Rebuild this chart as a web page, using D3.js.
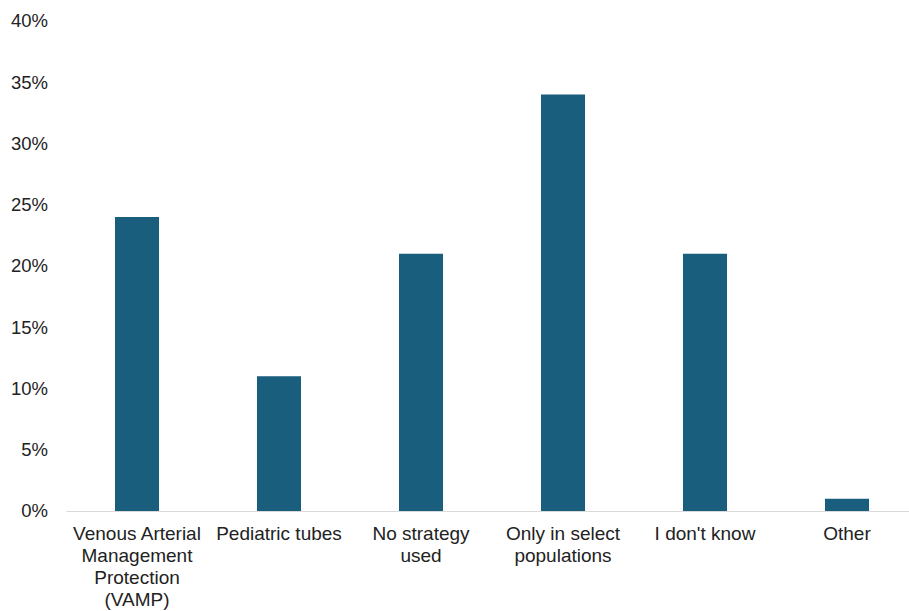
<!DOCTYPE html>
<html>
<head>
<meta charset="utf-8">
<script src="https://cdn.jsdelivr.net/npm/d3@7"></script>
<style>
  html, body { margin: 0; padding: 0; background: #fff; }
  text { font-family: "Liberation Sans", Arial, sans-serif; }
</style>
</head>
<body>
<svg id="chart" width="909" height="611"></svg>
<script>
const categories = [
  "Venous Arterial\nManagement\nProtection\n(VAMP)",
  "Pediatric tubes",
  "No strategy\nused",
  "Only in select\npopulations",
  "I don't know",
  "Other"
];
const values = [24, 11, 21, 34, 21, 1];
const yTicks = [0, 5, 10, 15, 20, 25, 30, 35, 40];

(function () {
const svg = d3.select("#chart");
const mLeft = 66, mRight = 918, mTop = 21, mBottom = 511;

const x = d3.scaleBand().domain(categories).range([mLeft, mRight]).padding(0);
const y = d3.scaleLinear().domain([0, 40]).range([mBottom, mTop]);
const barW = x.bandwidth() * 0.31;

// y-axis labels
const yAxis = d3.axisLeft(y).tickValues(yTicks).tickFormat(d => d + "%").tickSize(0).tickPadding(18);
const yg = svg.append("g").attr("transform", `translate(${mLeft},0)`).call(yAxis);
yg.select(".domain").remove();
yg.selectAll("text").attr("font-size", "18.5px").attr("fill", "#222")
  .attr("font-family", "Liberation Sans, Arial, sans-serif");

// bars
svg.append("g").selectAll("rect").data(values).join("rect")
  .attr("x", (d, i) => x(categories[i]) + x.bandwidth() / 2 - barW / 2)
  .attr("width", barW)
  .attr("y", d => y(d))
  .attr("height", d => y(0) - y(d))
  .attr("fill", "#1a5e7e");

// x axis
const xAxis = d3.axisBottom(x).tickSize(0).tickFormat("");
const xg = svg.append("g").attr("transform", `translate(0,${mBottom})`).call(xAxis);
xg.select(".domain").attr("stroke", "#d9d9d9").attr("stroke-width", 1.2);

// category labels (multi-line)
const lab = svg.append("g").selectAll("text").data(categories).join("text")
  .attr("text-anchor", "middle")
  .attr("font-size", "19px")
  .attr("fill", "#222")
  .attr("transform", d => `translate(${x(d) + x.bandwidth() / 2},${mBottom + 29})`);
lab.each(function(d) {
  const t = d3.select(this);
  d.split("\n").forEach((line, i) => {
    t.append("tspan").attr("x", 0).attr("y", i * 22).text(line);
  });
});
})();
</script>
</body>
</html>
